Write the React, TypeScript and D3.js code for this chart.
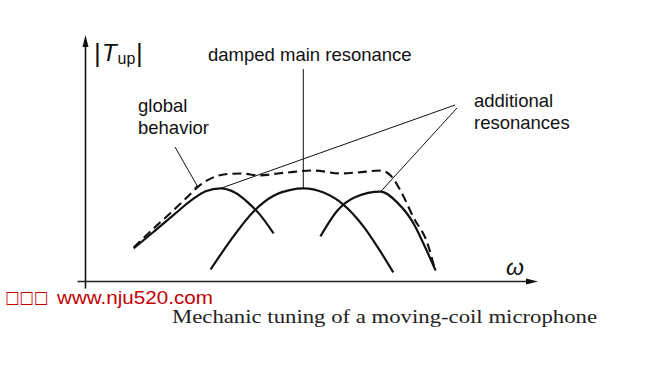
import React from "react";
import * as d3 from "d3";

// data in arbitrary units: omega (x) vs |T_up| (y)
const resonance1: [number, number][] = [
  [1.07, 1.35], [1.51, 2.02], [1.96, 2.72], [2.4, 3.38], [2.67, 3.68], [3.0, 3.8],
  [3.33, 3.62], [3.6, 3.24], [3.88, 2.72], [4.18, 1.96],
];
const resonance2: [number, number][] = [
  [2.78, 0.49], [3.22, 1.67], [3.73, 2.85], [4.18, 3.5], [4.56, 3.74], [4.84, 3.8],
  [5.29, 3.63], [5.73, 3.14], [6.18, 2.24], [6.51, 1.35], [6.84, 0.37],
];
const resonance3: [number, number][] = [
  [5.22, 1.84], [5.6, 2.9], [6.0, 3.45], [6.56, 3.67], [6.93, 3.22], [7.29, 2.37],
  [7.53, 1.47], [7.78, 0.45],
];
const globalBehavior: [number, number][] = [
  [1.07, 1.39], [1.51, 2.16], [1.89, 2.8], [2.27, 3.46], [2.51, 3.88], [2.78, 4.2],
  [3.07, 4.37], [3.44, 4.41], [3.89, 4.33], [4.27, 4.41], [4.49, 4.45], [5.07, 4.53],
  [5.67, 4.41], [6.04, 4.45], [6.56, 4.53], [6.78, 4.33], [7.0, 3.71], [7.29, 2.61],
  [7.6, 1.55], [7.76, 0.53],
];
// annotation anchors (data units)
const mainPeak: [number, number] = [4.84, 3.8];
const res1Peak: [number, number] = [3.0, 3.8];
const res3Peak: [number, number] = [6.56, 3.67];
const globalPoint: [number, number] = [2.49, 3.88];

const W = 656;
const H = 369;

export default function App() {
  const x = d3.scaleLinear().domain([0, 10]).range([85.5, 535.5]);
  const y = d3.scaleLinear().domain([0, 10]).range([281.5, 36.5]);
  const line = d3
    .line<[number, number]>()
    .x((d) => x(d[0]))
    .y((d) => y(d[1]))
    .curve(d3.curveMonotoneX);

  const x0 = x(0);
  const y0 = y(0);
  const sans = "'Liberation Sans', Arial, sans-serif";
  const lab = { fontFamily: sans, fontSize: 18.5, fill: "#111" };

  const mp = [x(mainPeak[0]), y(mainPeak[1])];
  const r1 = [x(res1Peak[0]), y(res1Peak[1])];
  const r3 = [x(res3Peak[0]), y(res3Peak[1])];
  const gp = [x(globalPoint[0]), y(globalPoint[1])];

  return (
    <svg
      width={W}
      height={H}
      style={{ position: "absolute", left: 0, top: 0, background: "#fff" }}
    >
      {/* axes */}
      <line x1={x0} y1={y0 + 7} x2={x0} y2={44} stroke="#111" strokeWidth={1.6} />
      <path d={`M${x0},35 L${x0 - 3},47 L${x0 + 3},47 Z`} fill="#111" />
      <line x1={x0 - 8} y1={y0} x2={528} y2={y0} stroke="#222" strokeWidth={1.6} />
      <path d={`M538,${y0} L526,${y0 - 3} L526,${y0 + 3} Z`} fill="#111" />

      {/* curves */}
      <path d={line(resonance1) || ""} fill="none" stroke="#111" strokeWidth={2.2} />
      <path d={line(resonance2) || ""} fill="none" stroke="#111" strokeWidth={2.2} />
      <path d={line(resonance3) || ""} fill="none" stroke="#111" strokeWidth={2.2} />
      <path
        d={line(globalBehavior) || ""}
        fill="none"
        stroke="#111"
        strokeWidth={2.1}
        strokeDasharray="9,5"
      />

      {/* leader lines */}
      <line x1={mp[0]} y1={69} x2={mp[0]} y2={mp[1]} stroke="#111" strokeWidth={1} />
      <line x1={455} y1={105} x2={r1[0]} y2={r1[1]} stroke="#111" strokeWidth={1} />
      <line x1={457} y1={108} x2={r3[0]} y2={r3[1]} stroke="#111" strokeWidth={1} />
      <line x1={175} y1={147} x2={gp[0]} y2={gp[1]} stroke="#111" strokeWidth={1} />
      <line x1={gp[0] - 3} y1={gp[1] + 1} x2={gp[0] + 4} y2={gp[1] - 2} stroke="#111" strokeWidth={1} />

      {/* labels */}
      <text x={94} y={62} style={{ fontFamily: sans, fontSize: 26, fill: "#111" }}>|</text>
      <text x={102} y={61} style={{ fontFamily: sans, fontSize: 24, fontStyle: "italic", fill: "#111" }}>T</text>
      <text x={117.5} y={64} style={{ fontFamily: sans, fontSize: 16, fill: "#111" }}>up</text>
      <text x={136} y={62} style={{ fontFamily: sans, fontSize: 26, fill: "#111" }}>|</text>

      <text x={208} y={61} style={lab}>damped main resonance</text>
      <text x={138} y={112} style={lab}>global</text>
      <text x={138} y={134} style={lab}>behavior</text>
      <text x={474} y={107} style={lab}>additional</text>
      <text x={474} y={129} style={lab}>resonances</text>

      <text x={506} y={275} style={{ fontFamily: sans, fontSize: 23, fontStyle: "italic", fill: "#111" }}>ω</text>

      {/* watermark */}
      <text
        x={5}
        y={303}
        textLength={43}
        lengthAdjust="spacingAndGlyphs"
        style={{ fontFamily: "'DejaVu Sans', sans-serif", fontSize: 17, fill: "#c40000" }}
      >
        □□□
      </text>
      <text
        x={57}
        y={304}
        textLength={156}
        lengthAdjust="spacingAndGlyphs"
        style={{ fontFamily: sans, fontSize: 19, fill: "#c40000" }}
      >
        www.nju520.com
      </text>

      {/* caption */}
      <text
        x={172}
        y={323}
        textLength={425}
        lengthAdjust="spacingAndGlyphs"
        style={{ fontFamily: "'Liberation Serif', 'Times New Roman', serif", fontSize: 19.5, fill: "#222" }}
      >
        Mechanic tuning of a moving-coil microphone
      </text>
    </svg>
  );
}
